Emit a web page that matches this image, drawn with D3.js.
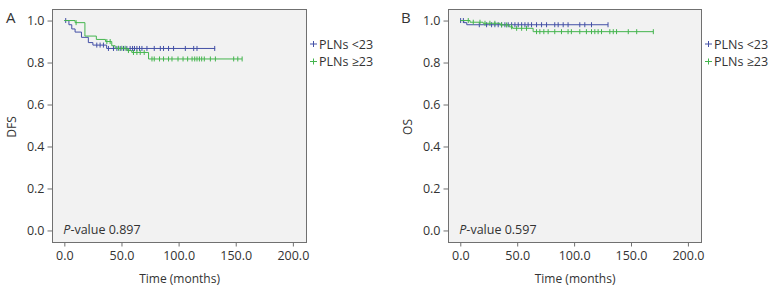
<!DOCTYPE html>
<html>
<head>
<meta charset="utf-8">
<script src="https://d3js.org/d3.v7.min.js"></script>
<style>
body {margin:0; background:#fff;}
text {font-family:"Open Sans", sans-serif; fill:#333;}
.frame {fill:#f2f2f2; stroke:#707070; stroke-width:1;}
.axis path {display:none;}
.axis line {stroke:#707070;}
.axis text {font-size:12.5px; fill:#333;}
</style>
</head>
<body>
<svg id="chart" width="777" height="293"></svg>
<script>
// x-axis and y-axis ticks
var xTicks=[0,50,100,150,200];
var yTicks=[0,0.2,0.4,0.6,0.8,1.0];
var groups=['PLNs <23','PLNs \u226523'];
var colors=['#4350a6','#44b54e'];

// Panel A, DFS: step times and survival after each step
var dfsLowT=[0,4,6.5,9.4,15,21,25,37,132];
var dfsLowS=[1.0,0.98,0.96,0.945,0.92,0.895,0.883,0.867,0.867];
var dfsLowCens=[1.2,28.4,31.3,34.2,38.6,43,46,48.9,51.8,54.7,57.6,59.7,61.4,63.5,65.8,67.9,72.3,78.7,84,86.8,91.2,95.6,105.9,113.2,116.1,131.6];
var dfsHighT=[0,9.4,18,28,36,41.5,44.5,55,59,73.7,155.6];
var dfsHighS=[1.0,0.99,0.926,0.91,0.90,0.88,0.868,0.857,0.848,0.817,0.817];
var dfsHighCens=[10.3,37.2,40.1,47.4,50.3,53.2,56.1,60.5,63.5,66.4,69.9,76.7,78.7,83.3,86.8,91.2,94.2,99.5,103.9,107.9,111.8,114.1,116.1,118.2,120.2,122.5,127.8,132.2,148.2,151.8,155.6];

// Panel B, OS
var osLowT=[0,3,5.7,129.8];
var osLowS=[1.0,0.99,0.98,0.98];
var osLowCens=[0.3,2.7,16.7,23.1,27.5,30.4,33.3,36.3,39.2,42.1,45.1,48,50.9,53.9,56.8,59.6,62.6,67,71.4,75.8,83,86,90.4,94.7,105,109.4,115.3,129.8];
var osHighT=[0,8.6,20,35,43,46,64,169.6];
var osHighS=[1.0,0.992,0.987,0.979,0.97,0.963,0.947,0.947];
var osHighCens=[7,11.4,17.3,21.7,26,30.4,36.3,40.7,45.1,49.5,53.9,58.2,67,69.9,73.4,77.2,83,88.9,94.7,97.6,105,110.8,115.3,118.2,121.1,124.1,131.4,134.4,137.3,147.6,155,169.6];

var svg=d3.select('#chart');

function survAt(T,S,t){
  var s=S[0];
  for(var i=0;i<T.length;i++){ if(T[i]<=t) s=S[i]; }
  return s;
}

function panel(opt){
  var g=svg.append('g');
  var x=d3.scaleLinear().domain([-10.8,211.5]).range([opt.left,opt.right]);
  var y=d3.scaleLinear().domain([-0.055,1.055]).range([242,9]);

  g.append('rect').attr('class','frame')
    .attr('x',opt.left+0.5).attr('y',9.5)
    .attr('width',opt.right-opt.left).attr('height',233);

  g.append('g').attr('class','axis').attr('transform','translate(0,242.5)')
    .call(d3.axisBottom(x).tickValues(xTicks).tickSize(4).tickPadding(5).tickFormat(d3.format('.1f')));
  g.append('g').attr('class','axis').attr('transform','translate('+(opt.left+0.5)+',0)')
    .call(d3.axisLeft(y).tickValues(yTicks).tickSize(5).tickPadding(3).tickFormat(d3.format('.1f')));

  var step=d3.line().x(function(d){return x(d[0]);}).y(function(d){return y(d[1]);}).curve(d3.curveStepAfter);

  opt.series.forEach(function(s,k){
    var pts=s.T.map(function(t,i){return [t,s.S[i]];});
    g.append('path').datum(pts).attr('d',step)
      .attr('fill','none').attr('stroke',colors[k]).attr('stroke-width',1);
    g.selectAll('.cens'+k).data(s.C).enter().append('line')
      .attr('x1',function(d){return x(d);}).attr('x2',function(d){return x(d);})
      .attr('y1',function(d){return y(survAt(s.T,s.S,d))-2.5;})
      .attr('y2',function(d){return y(survAt(s.T,s.S,d))+2.5;})
      .attr('stroke',colors[k]).attr('stroke-width',1);
  });

  g.append('text').attr('x',x(0)-1).attr('y',234).style('font-size','12.5px')
    .html('<tspan font-style="italic">P</tspan>-value '+opt.p);

  g.append('text').attr('x',(x(0)+x(200))/2+1).attr('y',283).attr('text-anchor','middle')
    .style('font-size','12px').text('Time (months)');
  g.append('text').attr('transform','translate('+opt.ylabX+',127) rotate(-90)')
    .attr('text-anchor','middle').style('font-size','12px').text(opt.ylab);
  g.append('text').attr('x',opt.letterX).attr('y',23).style('font-size','15px').text(opt.letter);

  groups.forEach(function(name,k){
    var ly=44+k*17.5;
    g.append('line').attr('x1',opt.right+4).attr('x2',opt.right+11).attr('y1',ly).attr('y2',ly)
      .attr('stroke',colors[k]);
    g.append('line').attr('x1',opt.right+7.5).attr('x2',opt.right+7.5).attr('y1',ly-3).attr('y2',ly+3)
      .attr('stroke',colors[k]);
    g.append('text').attr('x',opt.right+13).attr('y',ly+4.5).style('font-size','12.5px').text(name);
  });
}

panel({left:52,right:306,letter:'A',letterX:6,ylab:'DFS',ylabX:16,p:'0.897',
  series:[{T:dfsLowT,S:dfsLowS,C:dfsLowCens},{T:dfsHighT,S:dfsHighS,C:dfsHighCens}]});
panel({left:448,right:701,letter:'B',letterX:401,ylab:'OS',ylabX:412,p:'0.597',
  series:[{T:osLowT,S:osLowS,C:osLowCens},{T:osHighT,S:osHighS,C:osHighCens}]});
</script>
</body>
</html>
